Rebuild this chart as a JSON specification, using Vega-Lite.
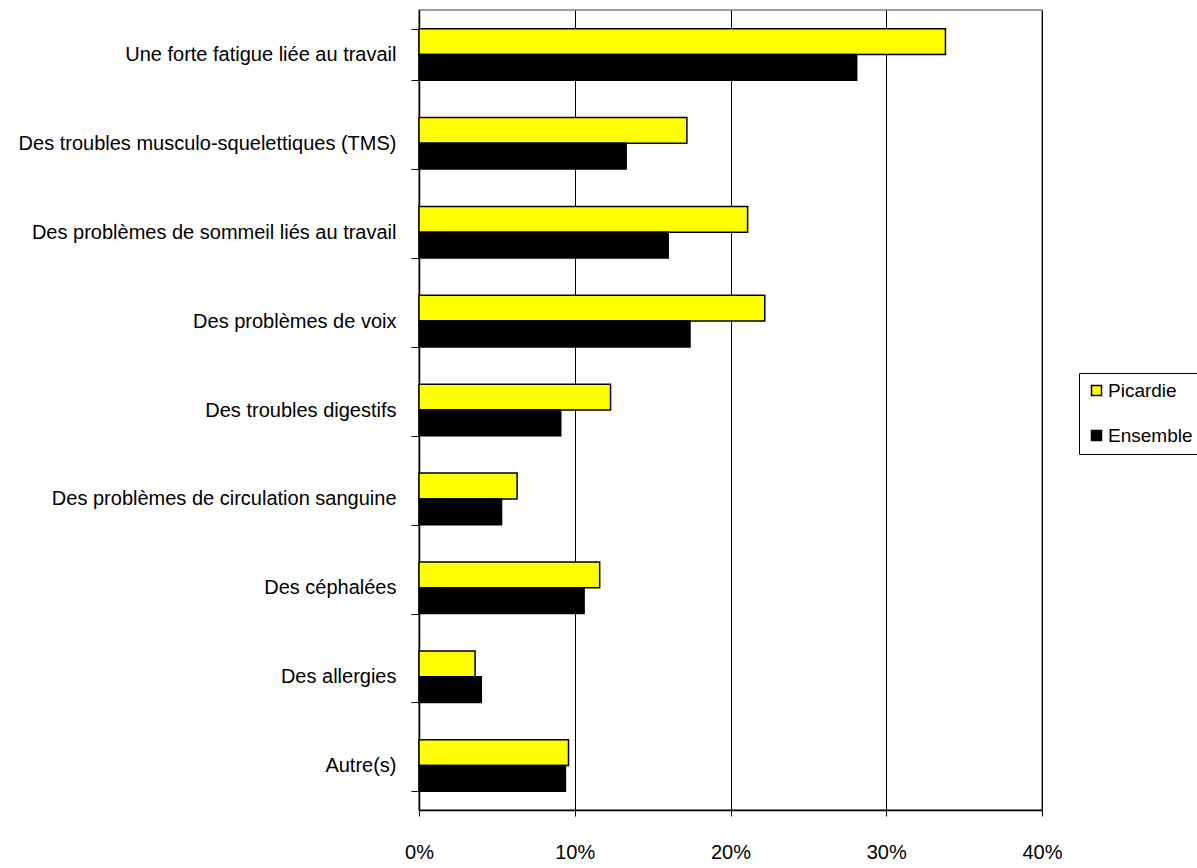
{
  "$schema": "https://vega.github.io/schema/vega-lite/v6.json",
  "autosize": "none",
  "width": 623,
  "height": 800,
  "padding": {"left": 419, "top": 10, "right": 155, "bottom": 58},
  "background": "white",
  "config": {
    "font": "Liberation Sans",
    "view": {"stroke": "#808080", "strokeWidth": 1.5}
  },
  "data": {
    "values": [
      {"cat": "Une forte fatigue liée au travail", "serie": "Picardie", "val": 0.338},
      {"cat": "Une forte fatigue liée au travail", "serie": "Ensemble", "val": 0.281},
      {"cat": "Des troubles musculo-squelettiques (TMS)", "serie": "Picardie", "val": 0.172},
      {"cat": "Des troubles musculo-squelettiques (TMS)", "serie": "Ensemble", "val": 0.133},
      {"cat": "Des problèmes de sommeil liés au travail", "serie": "Picardie", "val": 0.211},
      {"cat": "Des problèmes de sommeil liés au travail", "serie": "Ensemble", "val": 0.160},
      {"cat": "Des problèmes de voix", "serie": "Picardie", "val": 0.222},
      {"cat": "Des problèmes de voix", "serie": "Ensemble", "val": 0.174},
      {"cat": "Des troubles digestifs", "serie": "Picardie", "val": 0.123},
      {"cat": "Des troubles digestifs", "serie": "Ensemble", "val": 0.091},
      {"cat": "Des problèmes de circulation sanguine", "serie": "Picardie", "val": 0.063},
      {"cat": "Des problèmes de circulation sanguine", "serie": "Ensemble", "val": 0.053},
      {"cat": "Des céphalées", "serie": "Picardie", "val": 0.116},
      {"cat": "Des céphalées", "serie": "Ensemble", "val": 0.106},
      {"cat": "Des allergies", "serie": "Picardie", "val": 0.036},
      {"cat": "Des allergies", "serie": "Ensemble", "val": 0.040},
      {"cat": "Autre(s)", "serie": "Picardie", "val": 0.096},
      {"cat": "Autre(s)", "serie": "Ensemble", "val": 0.094}
    ]
  },
  "mark": {"type": "bar", "stroke": "black", "strokeWidth": 1.5},
  "encoding": {
    "y": {
      "field": "cat",
      "type": "nominal",
      "sort": null,
      "scale": {"paddingInner": 0.42, "paddingOuter": 0.21},
      "axis": {
        "title": null,
        "labelFontSize": 20,
        "labelColor": "black",
        "labelPadding": 15,
        "labelLimit": 450,
        "tickBand": "extent",
        "tickSize": 8,
        "tickColor": "black",
        "tickWidth": 1,
        "domainColor": "black",
        "domainWidth": 1.5
      }
    },
    "yOffset": {
      "field": "serie",
      "type": "nominal",
      "sort": ["Picardie", "Ensemble"]
    },
    "x": {
      "field": "val",
      "type": "quantitative",
      "scale": {"domain": [0, 0.4], "nice": false},
      "axis": {
        "title": null,
        "values": [0, 0.1, 0.2, 0.3, 0.4],
        "format": ".0%",
        "labelFontSize": 20,
        "labelColor": "black",
        "labelPadding": 26,
        "labelFlush": false,
        "grid": true,
        "gridColor": "black",
        "gridWidth": 1,
        "gridOpacity": 1,
        "tickSize": 6,
        "tickColor": "black",
        "domainColor": "black",
        "domainWidth": 1.5
      }
    },
    "color": {
      "field": "serie",
      "type": "nominal",
      "sort": ["Picardie", "Ensemble"],
      "scale": {"domain": ["Picardie", "Ensemble"], "range": ["#FFFF00", "#000000"]},
      "legend": {
        "title": null,
        "orient": "none",
        "legendX": 660,
        "legendY": 363,
        "fillColor": "white",
        "strokeColor": "black",
        "padding": 8,
        "labelFontSize": 19,
        "labelColor": "black",
        "labelOffset": 2,
        "rowPadding": 25,
        "symbolType": "square",
        "symbolSize": 100,
        "symbolStrokeColor": "black",
        "symbolStrokeWidth": 1.5
      }
    }
  }
}
